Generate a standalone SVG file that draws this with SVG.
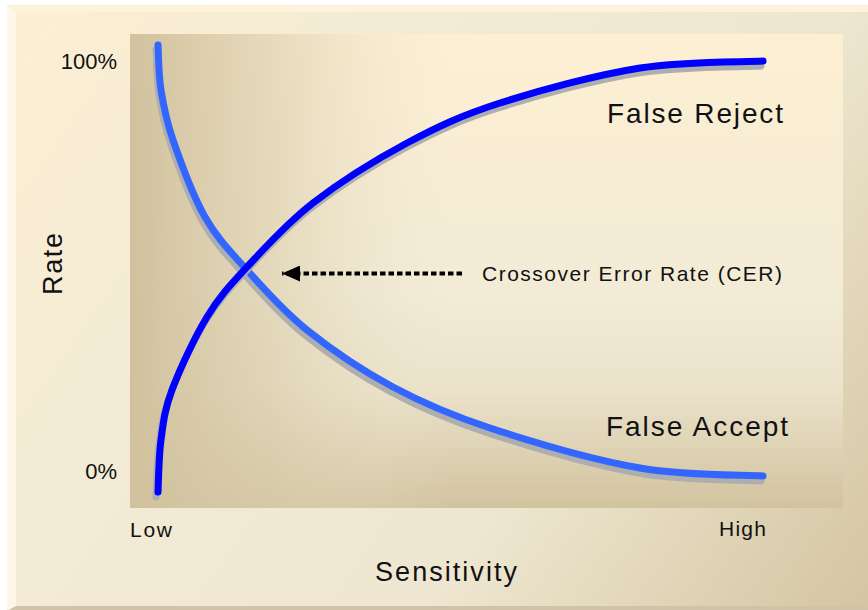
<svg xmlns="http://www.w3.org/2000/svg" width="868" height="610" viewBox="0 0 868 610">
  <defs>
    <linearGradient id="outerGrad" gradientUnits="userSpaceOnUse" x1="0" y1="0" x2="868" y2="610">
      <stop offset="0" stop-color="#FCEFD3"/>
      <stop offset="0.33" stop-color="#F3EBD5"/>
      <stop offset="0.66" stop-color="#EEE6D0"/>
      <stop offset="1" stop-color="#D4C5A1"/>
    </linearGradient>
    <linearGradient id="plotV" gradientUnits="userSpaceOnUse" x1="0" y1="34" x2="0" y2="508">
      <stop offset="0" stop-color="#FDEFD2"/>
      <stop offset="0.55" stop-color="#F2EBD6"/>
      <stop offset="0.75" stop-color="#EBE2CA"/>
      <stop offset="1" stop-color="#D2C39F"/>
    </linearGradient>
    <linearGradient id="plotH" gradientUnits="userSpaceOnUse" x1="130" y1="0" x2="843" y2="0">
      <stop offset="0" stop-color="#D1C19D" stop-opacity="1"/>
      <stop offset="0.2" stop-color="#D9CCAA" stop-opacity="0.6"/>
      <stop offset="0.45" stop-color="#EDE5CF" stop-opacity="0"/>
      <stop offset="1" stop-color="#EDE5CF" stop-opacity="0"/>
    </linearGradient>
    <marker id="arrowHead" viewBox="0 0 18 16" refX="18" refY="8" markerWidth="18" markerHeight="16" markerUnits="userSpaceOnUse" orient="auto">
      <path d="M0,0 L18,8 L0,16 Z" fill="#000"/>
    </marker>
  </defs>
  <style>
    .lbl { font-family: "Liberation Sans", Arial, sans-serif; fill: #111; }
    .tick { font-size: 22px; }
    .axis { font-size: 27px; }
    .curveLbl { font-size: 28px; }
    .shadow { fill: none; stroke: #AEAEAE; stroke-width: 7; stroke-linecap: round; stroke-linejoin: round; }
    .curve { fill: none; stroke-width: 7; stroke-linecap: round; stroke-linejoin: round; }
  </style>

  <rect x="0" y="0" width="868" height="610" fill="#FFFFFF"/>
  <g id="frame">
    <rect x="7" y="5" width="861" height="605" fill="url(#outerGrad)"/>
    <polygon points="7,5 868,5 868,12 16,12" fill="#FDF3DB"/>
    <polygon points="7,5 16,12 16,606 7,610" fill="#FEF7E7"/>
    <polygon points="16,606 868,606 868,610 9,610" fill="#CFC3A9"/>
  </g>

  <g id="plot-area">
    <rect x="130" y="34" width="713" height="474" fill="url(#plotV)"/>
    <rect x="130" y="34" width="713" height="474" fill="url(#plotH)"/>
  </g>

  <g id="false-accept-curve">
    <path class="shadow" transform="translate(-2,5)" d="M158,45 C158.5,52.5 158.5,74.2 161,90 C163.5,105.8 165.7,118.8 173,140 C180.3,161.2 192.7,195.3 205,217 C217.3,238.7 230,251.2 247,270 C264,288.8 282.7,310.5 307,330 C331.3,349.5 362.5,370.7 393,387 C423.5,403.3 448.8,414.5 490,428 C531.2,441.5 594.5,460 640,468 C685.5,476 742.5,474.7 763,476"/>
    <path class="curve" stroke="#3366FF" d="M158,45 C158.5,52.5 158.5,74.2 161,90 C163.5,105.8 165.7,118.8 173,140 C180.3,161.2 192.7,195.3 205,217 C217.3,238.7 230,251.2 247,270 C264,288.8 282.7,310.5 307,330 C331.3,349.5 362.5,370.7 393,387 C423.5,403.3 448.8,414.5 490,428 C531.2,441.5 594.5,460 640,468 C685.5,476 742.5,474.7 763,476"/>
  </g>

  <g id="false-reject-curve">
    <path class="shadow" transform="translate(-2,5)" d="M158,492 C158.5,483.3 158.7,457 161,440 C163.3,423 164.3,410.5 172,390 C179.7,369.5 194.5,337.5 207,317 C219.5,296.5 229.3,286 247,267 C264.7,248 286.3,223.7 313,203 C339.7,182.3 375.8,159.7 407,143 C438.2,126.3 461.2,115.5 500,103 C538.8,90.5 596.2,75 640,68 C683.8,61 742.5,62.2 763,61"/>
    <path class="curve" stroke="#0000FF" d="M158,492 C158.5,483.3 158.7,457 161,440 C163.3,423 164.3,410.5 172,390 C179.7,369.5 194.5,337.5 207,317 C219.5,296.5 229.3,286 247,267 C264.7,248 286.3,223.7 313,203 C339.7,182.3 375.8,159.7 407,143 C438.2,126.3 461.2,115.5 500,103 C538.8,90.5 596.2,75 640,68 C683.8,61 742.5,62.2 763,61"/>
  </g>

  <g id="connectors">
    <line x1="462" y1="273.5" x2="282" y2="273.5" stroke="#000" stroke-width="4" stroke-dasharray="5.5 3" marker-end="url(#arrowHead)"/>
  </g>

  <g id="label-100">
    <text class="lbl tick" x="117" y="69" text-anchor="end">100%</text>
  </g>
  <g id="label-0">
    <text class="lbl tick" x="117" y="479" text-anchor="end">0%</text>
  </g>
  <g id="label-low">
    <text class="lbl" x="130" y="537" font-size="21" textLength="42" lengthAdjust="spacing">Low</text>
  </g>
  <g id="label-high">
    <text class="lbl" x="719" y="536" font-size="21" textLength="47" lengthAdjust="spacing">High</text>
  </g>
  <g id="label-sensitivity">
    <text class="lbl axis" x="375" y="581" textLength="142" lengthAdjust="spacing">Sensitivity</text>
  </g>
  <g id="label-rate">
    <text class="lbl axis" transform="translate(62,295) rotate(-90)" x="0" y="0" textLength="62" lengthAdjust="spacing">Rate</text>
  </g>
  <g id="label-false-reject">
    <text class="lbl curveLbl" x="607" y="123" textLength="176" lengthAdjust="spacing">False Reject</text>
  </g>
  <g id="label-false-accept">
    <text class="lbl curveLbl" x="606" y="436" textLength="182" lengthAdjust="spacing">False Accept</text>
  </g>
  <g id="label-cer">
    <text class="lbl" x="482" y="281" font-size="21" textLength="300" lengthAdjust="spacing">Crossover Error Rate (CER)</text>
  </g>
</svg>
